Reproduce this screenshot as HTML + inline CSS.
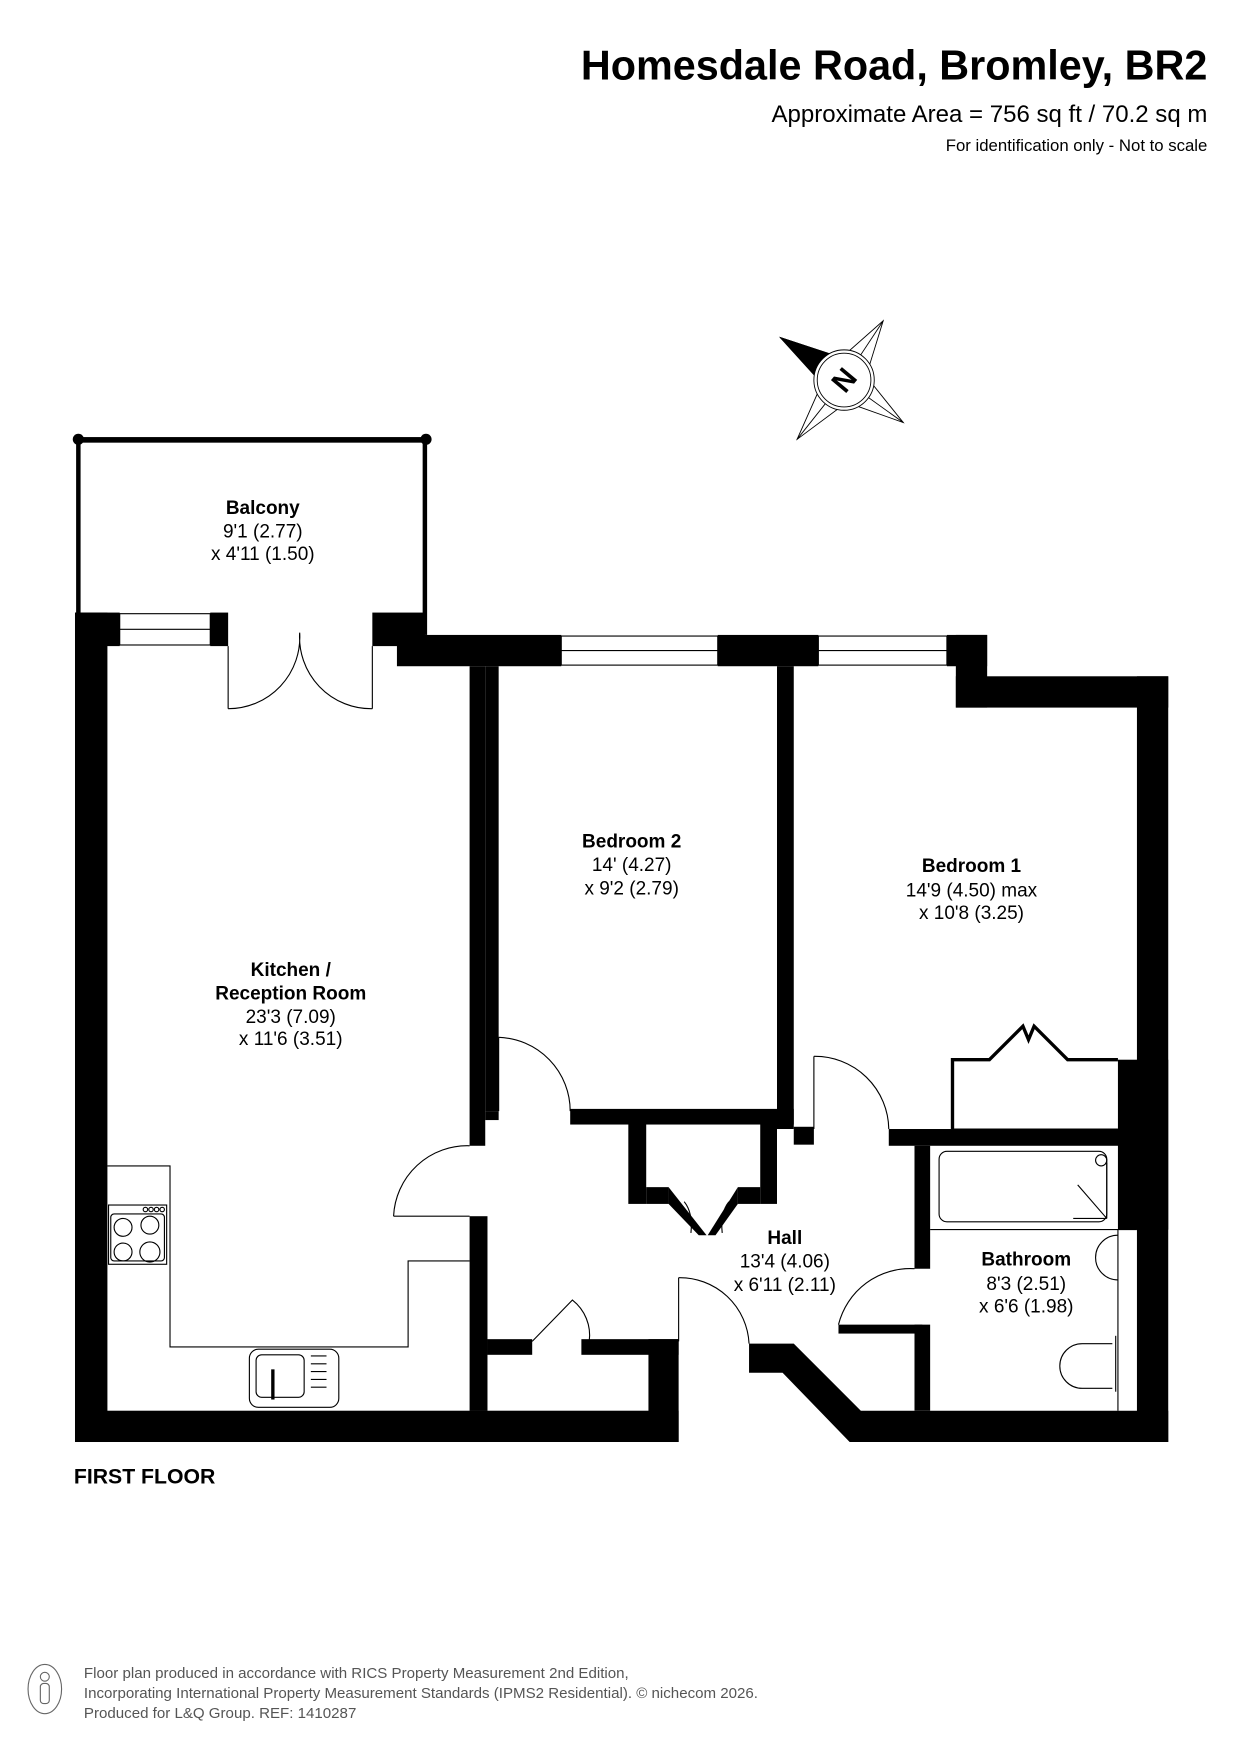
<!DOCTYPE html>
<html><head><meta charset="utf-8"><style>
html,body{margin:0;padding:0;background:#fff}
svg{display:block}
text{font-family:"Liberation Sans",Arial,sans-serif;fill:#000}
</style></head><body>
<svg width="1241" height="1755" viewBox="0 0 1110 1570" xmlns="http://www.w3.org/2000/svg">
<rect width="1110" height="1570" fill="#fff"/>
<!-- header -->
<text x="1080" y="71" font-size="37" font-weight="bold" text-anchor="end">Homesdale Road, Bromley, BR2</text>
<text x="1080" y="109" font-size="21.5" text-anchor="end">Approximate Area = 756 sq ft / 70.2 sq m</text>
<text x="1080" y="135" font-size="15" text-anchor="end">For identification only - Not to scale</text>

<!-- compass -->
<g stroke="#000" stroke-width="0.8" fill="#fff">
<polygon points="698,302 752.6,320 790,287 774.7,336.6 808,378 757.4,360 713,393 735.2,343"/>
<line x1="790" y1="287" x2="755" y2="340"/><line x1="808" y1="378" x2="755" y2="340"/><line x1="713" y1="393" x2="755" y2="340"/><line x1="698" y1="302" x2="755" y2="340"/>
<polygon points="698,302 752.6,320 755,340" fill="#000"/>
<polygon points="698,302 735.2,343 755,340" fill="#000"/>
<circle cx="755" cy="340" r="27"/><circle cx="755" cy="340" r="24"/>
</g>
<text x="755" y="349" font-size="26" font-weight="bold" text-anchor="middle" transform="rotate(-50 755 340)">N</text>

<!-- balcony -->
<rect x="68" y="391" width="315" height="5" fill="#000"/>
<circle cx="70" cy="393" r="5"/><circle cx="381" cy="393" r="5"/>
<rect x="68" y="393" width="4" height="157" fill="#000"/>
<rect x="378" y="393" width="4" height="175" fill="#000"/>

<g fill="#000">
<rect x="67" y="548" width="40" height="30"/>
<rect x="188" y="548" width="16" height="30"/>
<rect x="333" y="548" width="47" height="30"/>
<rect x="355" y="568" width="147" height="28"/>
<rect x="642" y="568" width="90" height="28"/>
<rect x="847" y="568" width="36" height="28"/>
<rect x="855" y="568" width="28" height="65"/>
<rect x="855" y="605" width="190" height="28"/>
<rect x="67" y="548" width="29" height="742"/>
<rect x="1017" y="605" width="28" height="685"/>
<rect x="1000" y="948" width="45" height="152"/>
<rect x="67" y="1262" width="540" height="28"/>
<rect x="580" y="1198" width="27" height="92"/>
<rect x="520" y="1198" width="87" height="14"/>
<rect x="436" y="1198" width="40" height="14"/>
<polygon points="670,1202 710,1202 770,1262 1045,1262 1045,1290 760,1290 700,1228 670,1228"/>
<rect x="420" y="596" width="14" height="429"/>
<rect x="434" y="596" width="12" height="398"/>
<rect x="434" y="994" width="12" height="8" />
<rect x="420" y="1088" width="16" height="174"/>
<rect x="420" y="1262" width="16" height="28"/>
<rect x="510" y="992" width="200" height="14"/>
<rect x="695" y="596" width="15" height="414"/>
<rect x="562" y="1005" width="16" height="72"/>
<rect x="578" y="1062" width="20" height="15"/>
<rect x="680" y="1005" width="15" height="72"/>
<rect x="660" y="1062" width="20" height="15"/>
<polygon points="598,1062 598,1077 625,1105 632,1105"/>
<polygon points="660,1062 660,1077 640,1105 633,1105"/>
<rect x="710" y="1008" width="18" height="16"/>
<rect x="795" y="1010" width="222" height="15"/>
<rect x="818" y="1025" width="14" height="110"/>
<rect x="818" y="1185" width="14" height="77"/>
<rect x="750" y="1185" width="75" height="8"/>
</g>

<!-- windows -->
<g fill="#fff" stroke="#000" stroke-width="1">
<rect x="107" y="549" width="81" height="28"/><line x1="107" y1="563" x2="188" y2="563"/>
<rect x="502" y="569" width="140" height="26"/><line x1="502" y1="582" x2="642" y2="582"/>
<rect x="732" y="569" width="115" height="26"/><line x1="732" y1="582" x2="847" y2="582"/>
</g>

<g fill="none" stroke="#000" stroke-width="1">
<line x1="204" y1="578" x2="204" y2="634"/><line x1="333" y1="578" x2="333" y2="634"/>
<path d="M204,634 A64,64 0 0 0 268,566 M333,634 A64,64 0 0 1 268,566"/>
<path d="M352,1088 A66,66 0 0 1 420,1025"/><line x1="352" y1="1088" x2="420" y2="1088"/>
<line x1="446" y1="928" x2="446" y2="994"/><path d="M446,928 A66,66 0 0 1 510,994"/>
<line x1="728" y1="945" x2="728" y2="1010"/><path d="M728,945 A66,66 0 0 1 795,1010"/>
<line x1="607" y1="1143" x2="607" y2="1200"/><path d="M607,1143 A62,62 0 0 1 670,1202"/>
<path d="M750,1185 A66,66 0 0 1 818,1135"/>
<path d="M476,1200 L512,1163 A40,40 0 0 1 527,1200"/>
<path d="M612,1075 Q620,1085 618,1103 M652,1075 Q644,1085 646,1103"/>
<path d="M852,1010 L852,948 L885,948 L915,918 L920,930 L925,918 L955,948 L1000,948" stroke-width="3"/>
<path d="M852,1010 L1000,1010" stroke-width="1"/>
<path d="M96,1043 L152,1043 L152,1205 L365,1205 L365,1128 L420,1128"/>
<rect x="97" y="1078" width="52" height="53"/>
<rect x="99" y="1086" width="48" height="42" rx="3"/>
<circle cx="110" cy="1098" r="8"/><circle cx="134" cy="1096" r="8"/><circle cx="110" cy="1120" r="8"/><circle cx="134" cy="1120" r="9"/>
<circle cx="130" cy="1082" r="2"/><circle cx="135" cy="1082" r="2"/><circle cx="140" cy="1082" r="2"/><circle cx="145" cy="1082" r="2"/>
<rect x="223" y="1207" width="80" height="52" rx="8"/>
<rect x="229" y="1212" width="43" height="38" rx="5"/>
<line x1="244" y1="1225" x2="244" y2="1252" stroke-width="3"/>
<path d="M278,1213h14M278,1220h14M278,1227h14M278,1234h14M278,1241h14"/>
<rect x="840" y="1030" width="150" height="63" rx="7"/>
<line x1="832" y1="1100" x2="1017" y2="1100"/>
<line x1="1000" y1="1100" x2="1000" y2="1262"/>
<path d="M964,1060 L990,1090 M960,1090 L990,1090 M990,1040 L990,1090"/>
<circle cx="985" cy="1038" r="5"/>
<path d="M1000,1105 A20,20 0 0 0 1000,1145"/>
<path d="M998,1195 L998,1245"/>
<path d="M995,1202 L968,1202 A20,20 0 0 0 968,1242 L995,1242"/>
</g>

<g text-anchor="middle" font-size="17">
<text x="235" y="460" font-weight="bold">Balcony</text>
<text x="235" y="481">9'1 (2.77)</text>
<text x="235" y="501">x 4'11 (1.50)</text>
<text x="565" y="758" font-weight="bold">Bedroom 2</text>
<text x="565" y="779">14' (4.27)</text>
<text x="565" y="800">x 9'2 (2.79)</text>
<text x="869" y="780" font-weight="bold">Bedroom 1</text>
<text x="869" y="802">14'9 (4.50) max</text>
<text x="869" y="822">x 10'8 (3.25)</text>
<text x="260" y="873" font-weight="bold">Kitchen /</text>
<text x="260" y="894" font-weight="bold">Reception Room</text>
<text x="260" y="915">23'3 (7.09)</text>
<text x="260" y="935">x 11'6 (3.51)</text>
<text x="702" y="1113" font-weight="bold">Hall</text>
<text x="702" y="1134">13'4 (4.06)</text>
<text x="702" y="1155">x 6'11 (2.11)</text>
<text x="918" y="1132" font-weight="bold">Bathroom</text>
<text x="918" y="1154">8'3 (2.51)</text>
<text x="918" y="1174">x 6'6 (1.98)</text>
</g>
<text x="66" y="1327" font-size="19" font-weight="bold">FIRST FLOOR</text>

<ellipse cx="40" cy="1511" rx="15" ry="22" fill="none" stroke="#666" stroke-width="1"/>
<circle cx="40" cy="1500" r="4" fill="none" stroke="#666"/>
<rect x="36" y="1506" width="8" height="18" rx="3" fill="none" stroke="#666"/>
<g font-size="13.5">
<text x="75" y="1501" style="fill:#555">Floor plan produced in accordance with RICS Property Measurement 2nd Edition,</text>
<text x="75" y="1519" style="fill:#555">Incorporating International Property Measurement Standards (IPMS2 Residential).   © nichecom 2026.</text>
<text x="75" y="1537" style="fill:#555">Produced for L&amp;Q Group.   REF:  1410287</text>
</g>
</svg>
</body></html>
